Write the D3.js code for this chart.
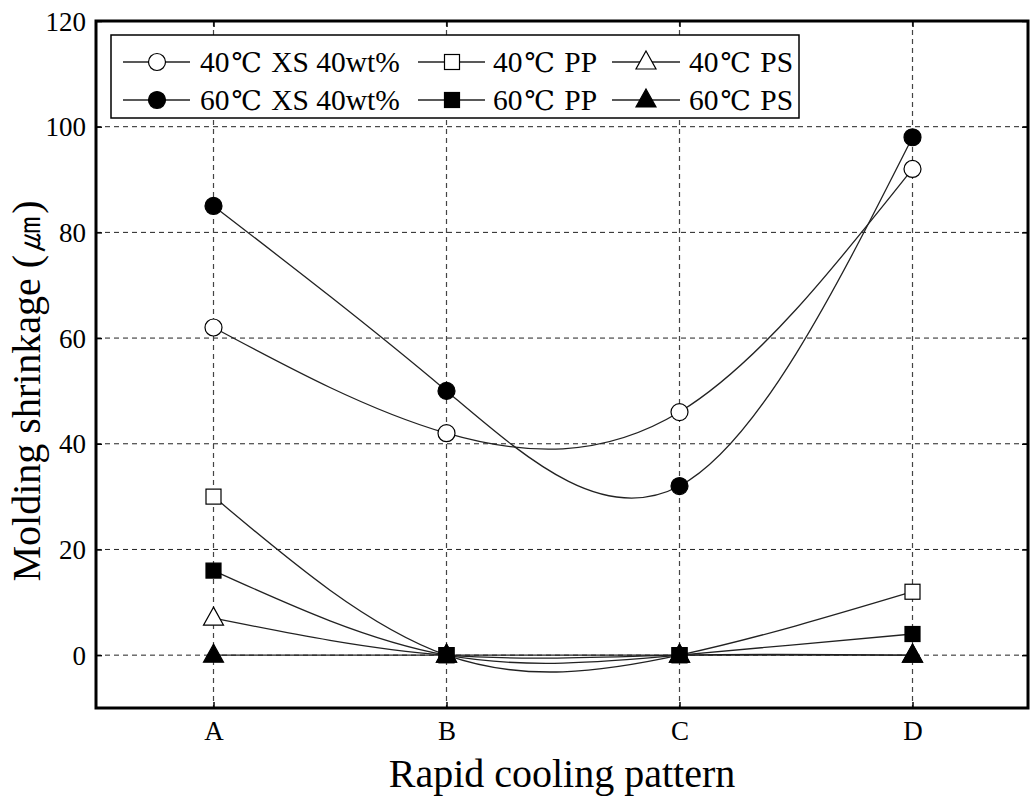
<!DOCTYPE html>
<html>
<head>
<meta charset="utf-8">
<script src="https://cdn.jsdelivr.net/npm/d3@7"></script>
<style>
  body { margin: 0; background: #fff; }
  svg { display: block; }
  text { fill: #000; }
</style>
</head>
<body>
<svg id="chart" width="1030" height="800"></svg>
<script>
// ---- data ----
const categories = ["A", "B", "C", "D"];
const yTicks = [0, 20, 40, 60, 80, 100, 120];
const seriesNames = ["40℃ XS 40wt%", "40℃ PP", "40℃ PS", "60℃ XS 40wt%", "60℃ PP", "60℃ PS"];
const xs40 = [62, 42, 46, 92];
const pp40 = [30, 0, 0, 12];
const ps40 = [7, 0, 0, 0];
const xs60 = [85, 50, 32, 98];
const pp60 = [16, 0, 0, 4];
const ps60 = [0, 0, 0, 0];
const xTitle = "Rapid cooling pattern";
const yTitle = "Molding shrinkage (㎛)";

const series = [
  { name: seriesNames[0], values: xs40, shape: "circle", filled: false },
  { name: seriesNames[1], values: pp40, shape: "square", filled: false },
  { name: seriesNames[2], values: ps40, shape: "triangle", filled: false },
  { name: seriesNames[3], values: xs60, shape: "circle", filled: true },
  { name: seriesNames[4], values: pp60, shape: "square", filled: true },
  { name: seriesNames[5], values: ps60, shape: "triangle", filled: true }
];

const SERIF = "Liberation Serif";
const SYM = "DejaVu Serif";

const svg = d3.select("#chart");
const L = 96, R = 1028, T = 21, B = 708;

const x = d3.scaleLinear().domain([-0.5, 3.5]).range([97, 1029]);
const y = d3.scaleLinear().domain([-10, 120]).range([B, T]);

// place a string as separate text pieces: symbol chars in DejaVu Serif, rest Liberation Serif
function richText(g, str, x0, y0, size, anchor, symGap) {
  const parts = str.split(/([℃㎛])/).filter(p => p.length);
  const nodes = parts.map(p => {
    const isSym = (p === "℃" || p === "㎛");
    return { isSym, n: g.append("text").attr("y", y0).attr("font-size", isSym ? size * 0.92 : size)
      .attr("font-family", isSym ? SYM : SERIF)
      .attr("xml:space", "preserve").style("white-space", "pre").text(p) };
  });
  const gap = symGap || 0;
  const widths = nodes.map(o => o.n.node().getComputedTextLength() + (o.isSym ? 2 * gap : 0));
  const total = d3.sum(widths);
  let cx = anchor === "middle" ? x0 - total / 2 : x0;
  nodes.forEach((o, i) => { o.n.attr("x", cx + (o.isSym ? gap : 0)); cx += widths[i]; });
}

// gridlines
const grid = svg.append("g");
grid.selectAll("line.h").data(yTicks.filter(v => v > -10 && v < 120)).enter().append("line")
  .attr("x1", L).attr("x2", R).attr("y1", d => y(d)).attr("y2", d => y(d))
  .attr("stroke", "#222").attr("stroke-width", 1).attr("stroke-dasharray", "5,4");
grid.selectAll("line.v").data(categories).enter().append("line")
  .attr("x1", (d, i) => x(i)).attr("x2", (d, i) => x(i)).attr("y1", T).attr("y2", B)
  .attr("stroke", "#444").attr("stroke-width", 1.2).attr("stroke-dasharray", "5,4");

// axes (inward ticks)
const yAxisL = d3.axisLeft(y).tickValues(yTicks).tickSize(-6).tickPadding(10).tickFormat(d3.format("d"));
const gy = svg.append("g").attr("transform", `translate(${L},0)`).call(yAxisL);
gy.select(".domain").remove();
gy.selectAll("text").attr("font-size", 27).attr("x", -10).attr("dy", "0.34em")
  .attr("font-family", SERIF);
gy.selectAll("line").attr("stroke", "#000").attr("stroke-width", 1.5);

const yAxisR = d3.axisRight(y).tickValues(yTicks).tickSize(-6).tickFormat("");
const gyr = svg.append("g").attr("transform", `translate(${R},0)`).call(yAxisR);
gyr.select(".domain").remove();
gyr.selectAll("line").attr("stroke", "#000").attr("stroke-width", 1.5);

const xAxisB = d3.axisBottom(x).tickValues([0, 1, 2, 3]).tickSize(-6).tickPadding(16)
  .tickFormat(i => categories[i]);
const gx = svg.append("g").attr("transform", `translate(0,${B})`).call(xAxisB);
gx.select(".domain").remove();
gx.selectAll("text").attr("font-size", 27).attr("y", 32).attr("dy", 0)
  .attr("font-family", SERIF);
gx.selectAll("line").attr("stroke", "#000").attr("stroke-width", 1.5);

const xAxisT = d3.axisTop(x).tickValues([0, 1, 2, 3]).tickSize(-6).tickFormat("");
const gxt = svg.append("g").attr("transform", `translate(0,${T})`).call(xAxisT);
gxt.select(".domain").remove();
gxt.selectAll("line").attr("stroke", "#000").attr("stroke-width", 1.5);

// lines
const line = d3.line().x((d, i) => x(i)).y(d => y(d)).curve(d3.curveNatural);
const plot = svg.append("g");
series.forEach(s => {
  plot.append("path").datum(s.values).attr("d", line)
    .attr("fill", "none").attr("stroke", "#222").attr("stroke-width", 1.3);
});

// markers
function drawMarker(g, shape, filled, cx, cy) {
  const fill = filled ? "#000" : "#fff";
  if (shape === "circle") {
    g.append("circle").attr("cx", cx).attr("cy", cy).attr("r", 8.5)
      .attr("fill", fill).attr("stroke", "#000").attr("stroke-width", 1.2);
  } else if (shape === "square") {
    g.append("rect").attr("x", cx - 7.5).attr("y", cy - 7.5).attr("width", 15).attr("height", 15)
      .attr("fill", fill).attr("stroke", "#000").attr("stroke-width", 1.2);
  } else {
    g.append("path").attr("d", `M${cx},${cy - 11} L${cx + 10},${cy + 7} L${cx - 10},${cy + 7} Z`)
      .attr("fill", fill).attr("stroke", "#000").attr("stroke-width", 1.2);
  }
}
series.forEach(s => {
  s.values.forEach((v, i) => drawMarker(plot, s.shape, s.filled, x(i), y(v)));
});

// frame
svg.append("rect").attr("x", L).attr("y", T).attr("width", R - L).attr("height", B - T)
  .attr("fill", "none").attr("stroke", "#000").attr("stroke-width", 3);

// legend
const lg = svg.append("g");
lg.append("rect").attr("x", 111).attr("y", 35).attr("width", 688).attr("height", 83)
  .attr("fill", "#fff").attr("stroke", "#000").attr("stroke-width", 1.5);
const colX = [{ l1: 123, l2: 190, m: 157, t: 200 }, { l1: 418, l2: 485, m: 452, t: 493 }, { l1: 612, l2: 680, m: 646, t: 689 }];
const rowY = [62, 100];
series.forEach((s, k) => {
  const c = colX[k % 3], r = rowY[Math.floor(k / 3)];
  lg.append("line").attr("x1", c.l1).attr("x2", c.l2).attr("y1", r).attr("y2", r)
    .attr("stroke", "#222").attr("stroke-width", 1.3);
  drawMarker(lg, s.shape, s.filled, c.m, r);
  richText(lg, s.name, c.t, r + 10, 29.5, "start", 2);
});

// axis titles
svg.append("text").attr("x", 562).attr("y", 787).attr("text-anchor", "middle")
  .attr("font-family", SERIF).attr("font-size", 40).text(xTitle);
const ytg = svg.append("g").attr("transform", "translate(40,391) rotate(-90)");
richText(ytg, yTitle, 0, 0, 40, "middle", 2);
</script>
</body>
</html>
